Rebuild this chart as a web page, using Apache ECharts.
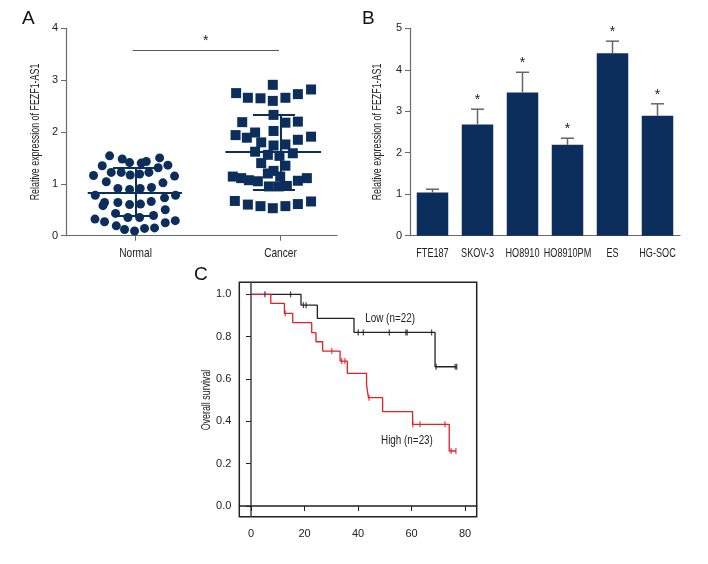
<!DOCTYPE html>
<html><head><meta charset="utf-8">
<script src="https://cdn.jsdelivr.net/npm/echarts@6/dist/echarts.min.js"></script>
<style>html,body{margin:0;padding:0;background:#fff;}#c{width:708px;height:564px;}</style>
</head><body><div id="c"></div>
<script>
// ---------- Panel A data ----------
const groupsA = ['Normal', 'Cancer'];
const normalVals = [1.54,1.48,1.41,1.40,1.43,1.50,1.35,1.22,1.22,1.17,1.19,1.22,1.31,1.36,1.16,1.15,1.04,1.02,0.91,0.89,0.91,0.93,0.78,0.78,0.73,0.64,0.58,0.64,0.60,0.61,0.66,0.50,0.43,0.35,0.35,0.39,0.32,0.27,0.19,0.12,0.09,0.14,0.15,0.25,0.29];
const normalJitter = [-0.179,-0.092,-0.041,0.039,0.074,0.166,-0.230,-0.168,-0.099,-0.037,0.028,0.092,0.156,0.223,-0.290,0.269,-0.202,0.189,-0.122,-0.041,0.032,0.110,-0.278,0.276,0.200,-0.214,-0.225,-0.122,-0.041,0.034,0.108,0.205,-0.138,-0.053,0.028,0.124,-0.280,-0.214,-0.133,-0.076,-0.007,0.062,0.131,0.205,0.274];
const cancerVals = [2.75,2.66,2.65,2.91,2.60,2.66,2.73,2.82,2.33,2.19,2.18,2.20,2.02,1.94,1.89,1.99,1.91,1.85,1.80,1.74,1.76,1.62,1.56,1.54,1.59,1.40,1.35,1.20,1.25,1.14,1.11,1.07,1.05,1.14,1.06,1.11,0.95,0.95,0.96,0.67,0.60,0.57,0.53,0.57,0.61,0.66];
const cancerJitter = [-0.306,-0.225,-0.138,-0.053,-0.053,0.034,0.120,0.211,-0.048,-0.264,0.034,0.120,-0.048,-0.310,-0.232,-0.175,0.211,0.120,-0.133,-0.048,0.034,-0.175,-0.087,-0.007,0.085,-0.133,0.034,-0.087,-0.048,-0.329,-0.271,-0.218,-0.156,-0.002,0.120,0.182,-0.080,-0.011,0.044,-0.315,-0.225,-0.138,-0.053,0.034,0.120,0.211];
const meanA = [0.83, 1.61];
const sdUpperA = [1.31, 2.33];
const sdLowerA = [0.38, 0.89];
const sigA = 3.57;
const yTicksA = [0, 1, 2, 3, 4];

// ---------- Panel B data ----------
const cellLines = ['FTE187', 'SKOV-3', 'HO8910', 'HO8910PM', 'ES', 'HG-SOC'];
const cellVals = [1.04, 2.68, 3.45, 2.19, 4.40, 2.89];
const cellErrTop = [1.12, 3.05, 3.94, 2.35, 4.69, 3.18];
const cellSig = ['', '*', '*', '*', '*', '*'];
const yTicksB = [0, 1, 2, 3, 4, 5];

// ---------- Panel C data ----------
const lowEventT = [18.7, 24.8, 38.5, 68.8];
const lowEventS = [0.949, 0.887, 0.820, 0.658];
const lowCensor = [5.2, 14.8, 19.6, 20.6, 40.1, 42.0, 51.7, 57.9, 58.4, 67.5, 69.2, 76.3, 76.9];
const highEventT = [7.4, 12.5, 15.6, 22.7, 24.3, 26.8, 33.3, 36.0, 43.2, 43.9, 49.2, 60.4, 74.1];
const highEventS = [0.957, 0.910, 0.866, 0.819, 0.776, 0.732, 0.685, 0.627, 0.572, 0.512, 0.446, 0.386, 0.260];
const highCensor = [12.8, 30.2, 33.9, 35.1, 44.1, 60.5, 63.2, 72.5, 74.8, 76.6];
const curveLabels = ['Low (n=22)', 'High (n=23)'];
const curveLabelPos = [[52.0, 0.888], [58.3, 0.312]];
const xTicksC = [0, 20, 40, 60, 80];
const yTicksC = [0, 0.2, 0.4, 0.6, 0.8, 1.0];

// ---------- style ----------
const FONT = "'Liberation Sans',Arial,sans-serif";
const NAVY = '#0c2e5c';
const AX = '#6a6a6a';
const TXT = '#222';
const SQUEEZE = 0.74;

function survAt(tArr, sArr, t) {
  let s = 1;
  for (let i = 0; i < tArr.length; i++) if (tArr[i] <= t) s = sArr[i];
  return s;
}
function kmLine(tArr, sArr, censor) {
  const pts = [[0, 1]];
  for (let i = 0; i < tArr.length; i++) pts.push([tArr[i], sArr[i]]);
  const last = Math.max(...censor, ...tArr);
  pts.push([last, survAt(tArr, sArr, last)]);
  return pts;
}

const halfMean = [[-0.33, 0.32], [-0.38, 0.28]];
const halfCap = [[-0.155, 0.13], [-0.19, 0.10]];
const posA = [1, 2];
const summaryLines = [];
for (let g = 0; g < 2; g++) {
  const x = posA[g];
  summaryLines.push([{coord: [x + halfMean[g][0], meanA[g]]}, {coord: [x + halfMean[g][1], meanA[g]]}]);
  summaryLines.push([{coord: [x + halfCap[g][0], sdUpperA[g]]}, {coord: [x + halfCap[g][1], sdUpperA[g]]}]);
  summaryLines.push([{coord: [x + halfCap[g][0], sdLowerA[g]]}, {coord: [x + halfCap[g][1], sdLowerA[g]]}]);
  summaryLines.push([{coord: [x, sdLowerA[g]]}, {coord: [x, sdUpperA[g]]}]);
}

const axisLabelBase = {color: TXT, fontFamily: FONT, fontSize: 11};

// narrow text drawn as a custom-series element (condensed look)
function narrowLabel(text, x, y, size, sx) {
  return {type: 'text', x: x, y: y, scaleX: sx, silent: true,
    style: {text: text, align: 'center', verticalAlign: 'middle', fontSize: size, fontFamily: FONT, fill: TXT}};
}
function axisName(text, x, y) {
  return {type: 'text', x: x, y: y, rotation: Math.PI / 2, scaleX: SQUEEZE, silent: true,
    style: {text: text, align: 'center', verticalAlign: 'middle', fontSize: 12, fontFamily: FONT, fill: TXT}};
}

const chart = echarts.init(document.getElementById('c'), null, {renderer: 'canvas'});
const option = {
  animation: false,
  backgroundColor: '#fff',
  grid: [
    {left: 66, top: 28.3, width: 271, height: 207.4},
    {left: 410, top: 28.3, width: 270, height: 207.4},
    {left: 239.3, top: 282.3, width: 237.4, height: 234.4, show: true, borderColor: '#222', borderWidth: 1.5, backgroundColor: 'transparent'}
  ],
  xAxis: [
    {gridIndex: 0, type: 'value', min: 0.52, max: 2.39, splitLine: {show: false},
     axisLine: {lineStyle: {color: AX, width: 1.2}},
     axisTick: {customValues: posA, length: 5, lineStyle: {color: AX}},
     axisLabel: {show: false}},
    {gridIndex: 1, type: 'category', data: cellLines,
     axisLine: {lineStyle: {color: AX, width: 1.2}},
     axisTick: {alignWithLabel: true, length: 5, lineStyle: {color: AX}},
     axisLabel: {show: false}},
    {gridIndex: 2, type: 'value', min: -4.37, max: 84.37, splitLine: {show: false},
     axisLine: {lineStyle: {color: '#222', width: 1.5}},
     axisTick: {customValues: xTicksC, length: 5, lineStyle: {color: '#222'}},
     axisLabel: Object.assign({}, axisLabelBase, {customValues: xTicksC, margin: 12})}
  ],
  yAxis: [
    {gridIndex: 0, type: 'value', min: 0, max: 4, interval: 1, splitLine: {show: false},
     axisLine: {show: true, lineStyle: {color: AX, width: 1.2}},
     axisTick: {show: true, length: 5, lineStyle: {color: AX}},
     axisLabel: Object.assign({}, axisLabelBase, {margin: 8})},
    {gridIndex: 1, type: 'value', min: 0, max: 5, interval: 1, splitLine: {show: false},
     axisLine: {show: true, lineStyle: {color: AX, width: 1.2}},
     axisTick: {show: true, length: 5, lineStyle: {color: AX}},
     axisLabel: Object.assign({}, axisLabelBase, {margin: 8})},
    {gridIndex: 2, type: 'value', min: -0.0505, max: 1.057, splitLine: {show: false},
     axisLine: {show: true, lineStyle: {color: '#444', width: 1.5}},
     axisTick: {show: true, customValues: yTicksC, length: 5, lineStyle: {color: '#222'}},
     axisLabel: Object.assign({}, axisLabelBase, {customValues: yTicksC, margin: 8,
       formatter: v => v.toFixed(1)})}
  ],
  series: [
    {type: 'scatter', xAxisIndex: 0, yAxisIndex: 0, symbol: 'circle', symbolSize: 9,
     itemStyle: {color: NAVY, opacity: 1},
     data: normalVals.map((v, i) => [posA[0] + normalJitter[i], v]),
     markLine: {silent: true, symbol: 'none', animation: false,
       lineStyle: {color: NAVY, width: 2, type: 'solid'}, label: {show: false},
       data: summaryLines}},
    {type: 'scatter', xAxisIndex: 0, yAxisIndex: 0, symbol: 'rect', symbolSize: 10,
     itemStyle: {color: NAVY, opacity: 1},
     data: cancerVals.map((v, i) => [posA[1] + cancerJitter[i], v]),
     markLine: {silent: true, symbol: 'none', animation: false,
       lineStyle: {color: '#555', width: 1, type: 'solid'},
       label: {show: true, position: 'middle', formatter: '*', color: TXT, fontSize: 14, fontFamily: FONT, distance: 2},
       data: [[{coord: [posA[0] - 0.02, sigA]}, {coord: [posA[1] - 0.01, sigA]}]]}},
    // A category labels
    {type: 'custom', xAxisIndex: 0, yAxisIndex: 0, clip: false, silent: true,
     data: posA.map(p => [p, 0]),
     renderItem: (params, api) => {
       const p = api.coord([api.value(0), 0]);
       return narrowLabel(groupsA[params.dataIndex], p[0], p[1] + 17.5, 13, 0.78);
     }},
    {type: 'bar', xAxisIndex: 1, yAxisIndex: 1, data: cellVals, barCategoryGap: '30%',
     itemStyle: {color: NAVY}},
    {type: 'custom', xAxisIndex: 1, yAxisIndex: 1, z: 5, clip: false,
     data: cellLines.map((c, i) => [i, cellVals[i], cellErrTop[i]]),
     renderItem: function (params, api) {
       const b = api.coord([api.value(0), api.value(1)]);
       const t = api.coord([api.value(0), api.value(2)]);
       const base = api.coord([api.value(0), 0]);
       const idx = params.dataIndex;
       const st = {stroke: '#666', lineWidth: 1.5};
       return {type: 'group', children: [
         {type: 'line', shape: {x1: b[0], y1: b[1], x2: t[0], y2: t[1]}, style: st},
         {type: 'line', shape: {x1: t[0] - 6.5, y1: t[1], x2: t[0] + 6.5, y2: t[1]}, style: st},
         {type: 'text', style: {text: cellSig[idx], x: t[0], y: t[1] - 9, align: 'center', verticalAlign: 'middle',
           fontSize: 14, fontFamily: FONT, fill: TXT}},
         narrowLabel(cellLines[idx], base[0], base[1] + 17.5, 13, 0.70)
       ]};
     }},
    {type: 'line', xAxisIndex: 2, yAxisIndex: 2, step: 'end', symbol: 'none', z: 3,
     lineStyle: {color: '#222', width: 1.3}, data: kmLine(lowEventT, lowEventS, lowCensor)},
    {type: 'line', xAxisIndex: 2, yAxisIndex: 2, step: 'end', symbol: 'none', z: 4,
     lineStyle: {color: '#e0202a', width: 1.3}, data: kmLine(highEventT, highEventS, highCensor)},
    {type: 'scatter', xAxisIndex: 2, yAxisIndex: 2, symbol: 'rect', symbolSize: [1.3, 6], z: 5,
     itemStyle: {color: '#222'}, data: lowCensor.map(t => [t, survAt(lowEventT, lowEventS, t)])},
    {type: 'scatter', xAxisIndex: 2, yAxisIndex: 2, symbol: 'rect', symbolSize: [1.3, 6], z: 6,
     itemStyle: {color: '#e0202a'}, data: highCensor.map(t => [t, survAt(highEventT, highEventS, t)])},
    {type: 'custom', xAxisIndex: 2, yAxisIndex: 2, clip: false, silent: true,
     data: curveLabelPos.map(p => [p[0], p[1]]),
     renderItem: (params, api) => {
       const p = api.coord([api.value(0), api.value(1)]);
       return narrowLabel(curveLabels[params.dataIndex], p[0], p[1], 13, 0.76);
     }}
  ],
  graphic: [
    {type: 'text', left: 22, top: 9, style: {text: 'A', fontSize: 19, fontFamily: FONT, fill: '#111'}},
    {type: 'text', left: 362, top: 9, style: {text: 'B', fontSize: 19, fontFamily: FONT, fill: '#111'}},
    {type: 'text', left: 194, top: 265, style: {text: 'C', fontSize: 19, fontFamily: FONT, fill: '#111'}},
    axisName('Relative expression of FEZF1-AS1', 35.3, 132),
    axisName('Relative expression of FEZF1-AS1', 377.7, 132),
    axisName('Overall survival', 206.7, 400)
  ]
};
chart.setOption(option);
</script></body></html>
